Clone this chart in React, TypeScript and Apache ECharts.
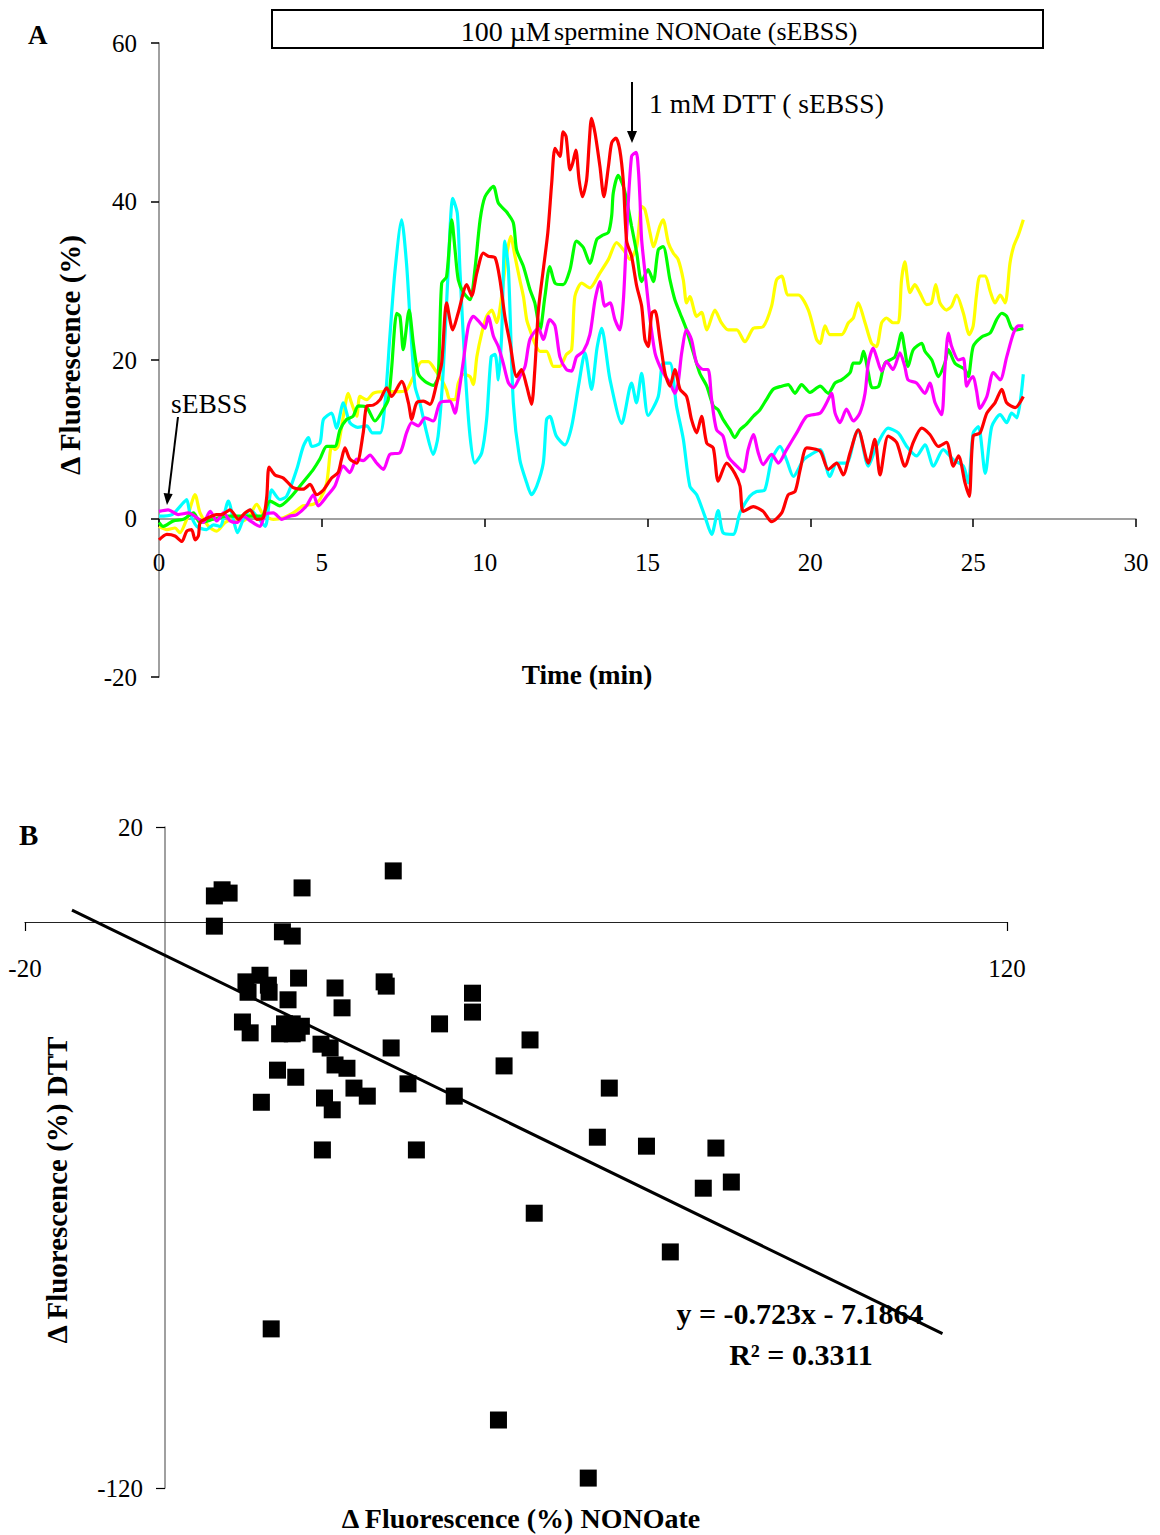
import React, { useEffect, useRef } from "react";
import * as echarts from "echarts";

const FONT = '"Liberation Serif", "Times New Roman", serif';

// ---------- Panel A: time courses (time min, Δ fluorescence %) ----------
const X_TICKS_A = [0, 30, 5];
const Y_TICKS_A = [-20, 60, 20];

const CYAN: number[][] = [
  [0, 0.3], [0.4, 0.5], [0.75, 2.0], [0.85, 2.4], [0.95, 0.7], [1.16, -1.0], [1.46, -1.4], [1.67, -0.8], [1.87, -1.0],
  [2.13, 2.2], [2.28, -0.1], [2.41, -1.8], [2.59, -0.1], [2.8, 1.1], [3.0, 0.3], [3.26, -1.0], [3.46, 3.6], [3.71, 2.4],
  [3.92, 2.8], [4.23, 6.2], [4.43, 9.1], [4.59, 10.2], [4.69, 9.1], [4.94, 9.5], [5.05, 12.5], [5.3, 13.3], [5.45, 11.4],
  [5.66, 14.6], [5.86, 12.1], [6.1, 11.5], [6.38, 11.7], [6.55, 10.8], [6.79, 10.8], [6.94, 14.6], [7.09, 23.0],
  [7.25, 31.4], [7.45, 37.7], [7.6, 32.2], [7.71, 25.1], [7.86, 16.7], [8.01, 14.6], [8.22, 10.8], [8.42, 8.1],
  [8.57, 10.4], [8.73, 18.8], [8.88, 31.4], [9.02, 40.4], [9.16, 38.5], [9.24, 31.4], [9.4, 18.8], [9.55, 10.4],
  [9.7, 7.0], [9.91, 8.3], [10.06, 12.5], [10.2, 20.4], [10.32, 20.7], [10.42, 17.5], [10.52, 23.0], [10.62, 35.0],
  [10.73, 31.4], [10.88, 14.6], [11.08, 7.4], [11.29, 4.5], [11.44, 3.0], [11.6, 4.1], [11.8, 7.0], [11.9, 12.5],
  [12.0, 12.9], [12.2, 10.4], [12.46, 9.3], [12.67, 11.6], [12.88, 16.7], [13.08, 20.9], [13.28, 16.3], [13.45, 21.5],
  [13.59, 24.0], [13.85, 17.5], [14.21, 12.0], [14.51, 17.1], [14.66, 14.6], [14.82, 18.3], [15.02, 13.0], [15.33, 15.4],
  [15.48, 19.6], [15.69, 19.6], [15.89, 14.2], [16.1, 10.0], [16.3, 4.1], [16.51, 3.0], [16.76, 0.3], [16.97, -2.0],
  [17.17, 1.0], [17.32, -1.8], [17.63, -2.0], [17.84, 0.7], [18.14, 2.8], [18.35, 3.4], [18.6, 3.6], [18.81, 7.4],
  [19.07, 9.1], [19.27, 7.4], [19.48, 5.3], [19.79, 7.4], [19.99, 8.0], [20.3, 8.7], [20.6, 5.3], [20.81, 7.0],
  [21.11, 7.0], [21.37, 10.4], [21.47, 11.2], [21.78, 6.6], [22.03, 9.1], [22.39, 11.4], [22.7, 10.8], [22.96, 9.1],
  [23.26, 7.9], [23.52, 9.3], [23.78, 6.6], [24.08, 8.7], [24.39, 7.4], [24.7, 6.6], [24.85, 4.5], [25.0, 10.8],
  [25.16, 11.6], [25.37, 5.7], [25.57, 11.6], [25.83, 13.1], [26.03, 12.1], [26.18, 13.3], [26.34, 12.7], [26.54, 18.2],
];

const YELLOW: number[][] = [
  [0, -1.0], [0.24, -1.4], [0.49, -1.2], [0.64, -1.8], [0.85, -0.1], [1.11, 3.0], [1.26, 0.7], [1.52, -1.0], [1.77, -1.6],
  [2.03, -0.5], [2.28, -0.1], [2.59, -0.3], [2.8, 0.5], [3.0, 1.8], [3.2, 0.5], [3.51, -0.1], [3.82, 0.1], [4.12, 0.7],
  [4.43, 1.6], [4.74, 1.8], [4.94, 2.4], [5.15, 4.5], [5.3, 9.1], [5.4, 8.7], [5.5, 9.1], [5.66, 12.9], [5.81, 15.8],
  [5.91, 14.6], [6.07, 12.9], [6.17, 15.4], [6.38, 15.0], [6.58, 15.8], [6.89, 16.0], [7.3, 16.0], [7.6, 16.2],
  [7.81, 17.9], [8.07, 19.8], [8.27, 19.8], [8.47, 18.8], [8.68, 17.5], [8.83, 16.2], [8.93, 15.0], [9.09, 15.0],
  [9.19, 17.1], [9.35, 18.2], [9.55, 17.9], [9.65, 16.9], [9.76, 20.4], [9.91, 23.4], [10.06, 25.5], [10.22, 26.3],
  [10.37, 24.7], [10.52, 28.0], [10.67, 33.1], [10.8, 35.6], [10.93, 33.1], [11.08, 30.1], [11.19, 28.0], [11.29, 25.1],
  [11.39, 23.8], [11.54, 22.1], [11.7, 21.1], [11.9, 21.1], [12.11, 19.2], [12.31, 19.2], [12.51, 20.7], [12.67, 21.3],
  [12.77, 28.0], [12.98, 29.7], [13.23, 29.1], [13.54, 31.0], [13.8, 32.7], [14.05, 34.8], [14.26, 33.9], [14.46, 32.7],
  [14.67, 34.3], [14.82, 39.4], [14.92, 39.0], [15.08, 36.0], [15.18, 34.3], [15.38, 36.9], [15.48, 37.7], [15.64, 34.8],
  [15.79, 33.5], [15.94, 32.7], [16.1, 30.1], [16.2, 27.2], [16.3, 28.0], [16.51, 25.5], [16.66, 26.0], [16.82, 23.8],
  [17.07, 26.3], [17.27, 24.7], [17.48, 23.8], [17.74, 23.8], [17.99, 22.3], [18.25, 24.0], [18.55, 24.2], [18.81, 26.8],
  [18.96, 30.1], [19.12, 30.6], [19.32, 28.2], [19.63, 28.2], [19.94, 26.3], [20.19, 22.6], [20.3, 22.1], [20.45, 24.3],
  [20.6, 23.2], [20.96, 23.2], [21.17, 24.7], [21.32, 25.3], [21.47, 27.2], [21.68, 24.7], [21.88, 22.1], [22.03, 21.7],
  [22.19, 24.7], [22.34, 25.3], [22.54, 24.7], [22.7, 24.7], [22.8, 30.1], [22.9, 32.4], [23.06, 28.5], [23.21, 29.5],
  [23.36, 28.5], [23.57, 27.0], [23.72, 27.2], [23.85, 29.5], [23.98, 27.2], [24.18, 26.3], [24.34, 26.8], [24.49, 28.2],
  [24.7, 25.9], [24.88, 23.2], [25.0, 24.3], [25.1, 28.1], [25.21, 30.6], [25.37, 30.6], [25.52, 28.7], [25.67, 27.2],
  [25.83, 28.2], [25.98, 27.2], [26.13, 32.2], [26.24, 34.3], [26.39, 35.8], [26.54, 37.7],
];

const GREEN: number[][] = [
  [0, -0.5], [0.13, -1.0], [0.44, -0.3], [0.75, -0.1], [1.06, 0.7], [1.26, -0.5], [1.67, -0.1], [2.08, 0.3], [2.49, 0.3],
  [2.8, 0.3], [3.15, 0.3], [3.41, 2.2], [3.71, 1.6], [4.02, 2.6], [4.33, 4.1], [4.53, 5.1], [4.74, 6.2], [4.94, 7.5],
  [5.15, 9.1], [5.4, 9.1], [5.56, 11.2], [5.76, 12.5], [5.96, 12.9], [6.12, 14.2], [6.38, 14.0], [6.63, 12.3],
  [6.89, 13.8], [7.04, 15.0], [7.14, 18.8], [7.3, 25.9], [7.4, 25.5], [7.5, 21.3], [7.68, 26.3], [7.81, 22.1],
  [7.96, 18.3], [8.17, 17.3], [8.42, 16.8], [8.57, 17.9], [8.68, 29.7], [8.83, 30.5], [8.99, 37.7], [9.09, 33.9],
  [9.19, 30.1], [9.35, 28.5], [9.55, 27.6], [9.7, 31.4], [9.86, 37.7], [10.01, 40.6], [10.27, 41.9], [10.42, 39.8],
  [10.67, 38.7], [10.88, 37.3], [10.98, 33.9], [11.19, 31.8], [11.39, 28.9], [11.54, 27.2], [11.7, 23.8], [11.85, 28.0],
  [12.0, 31.8], [12.16, 29.7], [12.41, 29.5], [12.62, 31.4], [12.82, 35.0], [13.03, 34.2], [13.23, 32.2], [13.44, 35.2],
  [13.6, 35.7], [13.8, 36.1], [13.9, 38.2], [13.95, 41.1], [14.1, 43.3], [14.26, 41.9], [14.36, 40.2], [14.51, 36.9],
  [14.67, 33.5], [14.82, 29.9], [15.02, 31.4], [15.18, 29.9], [15.33, 33.9], [15.48, 34.3], [15.69, 30.1], [15.84, 27.6],
  [16.0, 25.9], [16.2, 23.8], [16.41, 20.9], [16.61, 18.3], [16.82, 16.7], [17.02, 14.2], [17.17, 13.7], [17.32, 12.5],
  [17.53, 11.2], [17.68, 10.2], [17.84, 11.2], [18.04, 11.9], [18.25, 12.9], [18.45, 13.7], [18.65, 15.0], [18.86, 16.3],
  [19.12, 16.7], [19.32, 16.9], [19.53, 15.8], [19.73, 16.9], [19.99, 15.9], [20.3, 16.7], [20.55, 15.8], [20.76, 17.1],
  [20.96, 17.5], [21.22, 18.4], [21.32, 19.6], [21.52, 19.6], [21.63, 21.1], [21.78, 18.4], [21.9, 16.5], [22.1, 16.7],
  [22.29, 19.6], [22.6, 20.4], [22.8, 23.4], [22.9, 21.3], [23.0, 19.2], [23.16, 21.3], [23.42, 22.1], [23.52, 21.1],
  [23.73, 20.0], [23.93, 17.9], [24.13, 19.6], [24.24, 21.3], [24.44, 19.6], [24.75, 18.8], [24.85, 17.9], [25.0, 21.7],
  [25.26, 22.9], [25.52, 23.4], [25.72, 25.1], [25.88, 25.9], [26.03, 25.5], [26.18, 24.0], [26.34, 23.8], [26.54, 24.0],
];

const MAGENTA: number[][] = [
  [0, 0.9], [0.28, 1.1], [0.59, 0.5], [0.9, 0.7], [1.16, 0.1], [1.36, -0.5], [1.57, 0.9], [1.77, -0.3], [1.98, 0.7],
  [2.18, -0.3], [2.39, -0.5], [2.59, 0.3], [2.8, -0.3], [3.1, -1.0], [3.26, 0.5], [3.51, 0.7], [3.77, -0.1], [4.02, 0.3],
  [4.23, 0.5], [4.53, 1.6], [4.74, 3.0], [4.89, 1.6], [5.15, 2.8], [5.4, 4.1], [5.66, 6.6], [5.86, 5.8], [6.07, 7.5],
  [6.27, 7.3], [6.48, 8.0], [6.68, 7.0], [6.89, 6.2], [7.09, 8.1], [7.4, 8.3], [7.6, 10.8], [7.76, 12.1], [7.96, 11.7],
  [8.17, 12.7], [8.42, 12.3], [8.63, 14.6], [8.93, 14.8], [9.09, 13.3], [9.19, 15.4], [9.35, 20.0], [9.5, 24.3],
  [9.65, 25.5], [9.86, 24.7], [10.01, 24.0], [10.11, 25.5], [10.27, 23.0], [10.42, 21.7], [10.57, 19.6], [10.73, 17.1],
  [10.88, 16.5], [11.08, 17.9], [11.24, 19.2], [11.39, 22.6], [11.65, 24.0], [11.8, 22.6], [12.0, 25.1], [12.16, 24.3],
  [12.31, 20.4], [12.51, 18.8], [12.67, 18.6], [12.82, 20.4], [13.03, 21.1], [13.23, 23.2], [13.39, 27.6], [13.54, 29.9],
  [13.69, 26.8], [13.85, 27.2], [14.0, 25.1], [14.15, 23.8], [14.26, 27.6], [14.36, 36.0], [14.51, 45.7], [14.65, 46.2],
  [14.72, 44.0], [14.77, 40.2], [14.82, 35.2], [14.97, 29.3], [15.08, 25.1], [15.23, 20.9], [15.38, 19.2], [15.54, 18.0],
  [15.69, 17.1], [15.84, 15.8], [15.94, 17.1], [16.05, 20.9], [16.2, 23.8], [16.35, 22.6], [16.51, 19.6], [16.71, 18.8],
  [16.86, 18.8], [16.97, 15.0], [17.12, 11.2], [17.32, 10.4], [17.48, 7.8], [17.74, 6.6], [17.94, 5.9], [18.09, 8.7],
  [18.25, 10.6], [18.4, 8.3], [18.55, 6.8], [18.81, 8.1], [19.02, 7.0], [19.27, 8.7], [19.58, 10.8], [19.89, 12.9],
  [20.3, 13.3], [20.5, 14.6], [20.65, 15.8], [20.76, 13.3], [20.91, 12.1], [21.11, 13.8], [21.32, 12.3], [21.52, 13.3],
  [21.68, 15.8], [21.78, 19.6], [21.93, 21.5], [22.03, 20.4], [22.19, 18.6], [22.34, 19.8], [22.54, 18.8], [22.75, 20.9],
  [22.9, 19.2], [23.0, 17.5], [23.26, 17.1], [23.52, 15.8], [23.67, 17.1], [23.83, 14.6], [24.03, 13.1], [24.13, 18.8],
  [24.24, 23.4], [24.34, 21.7], [24.55, 20.0], [24.7, 20.2], [24.8, 16.7], [24.9, 17.5], [25.0, 17.9], [25.1, 16.2],
  [25.21, 13.9], [25.42, 15.4], [25.62, 18.4], [25.83, 17.5], [26.03, 20.4], [26.24, 23.4], [26.39, 24.3], [26.54, 24.3],
];

const RED: number[][] = [
  [0, -2.7], [0.24, -2.0], [0.49, -2.2], [0.7, -2.9], [0.85, -1.6], [1.0, -1.4], [1.11, -2.7], [1.21, -2.2], [1.26, -0.5],
  [1.41, -0.1], [1.77, 0.5], [1.92, 0.5], [2.18, 1.1], [2.44, -0.1], [2.64, 0.7], [2.8, 1.1], [3.0, -0.1], [3.2, 0.1],
  [3.31, 2.8], [3.38, 6.5], [3.56, 5.5], [3.82, 5.1], [4.12, 3.9], [4.43, 3.7], [4.64, 4.3], [4.84, 3.0], [5.05, 3.6],
  [5.3, 5.1], [5.5, 5.8], [5.6, 7.4], [5.71, 8.9], [5.86, 7.5], [6.07, 7.0], [6.27, 10.8], [6.38, 14.2], [6.58, 14.3],
  [6.79, 15.0], [6.99, 16.5], [7.14, 15.4], [7.45, 17.3], [7.66, 14.6], [7.76, 12.5], [7.91, 14.6], [8.12, 14.8],
  [8.32, 14.4], [8.53, 17.1], [8.68, 19.6], [8.83, 27.2], [9.02, 23.8], [9.19, 26.0], [9.45, 29.5], [9.6, 28.1],
  [9.76, 31.0], [9.96, 33.5], [10.11, 33.1], [10.32, 32.9], [10.47, 30.1], [10.62, 25.5], [10.78, 22.1], [10.98, 17.9],
  [11.13, 18.8], [11.29, 16.7], [11.44, 14.4], [11.54, 18.8], [11.65, 26.3], [11.8, 31.4], [11.94, 36.1], [12.06, 42.4],
  [12.16, 46.7], [12.31, 45.7], [12.41, 48.8], [12.5, 48.2], [12.62, 44.0], [12.7, 44.8], [12.8, 46.5], [12.9, 42.7],
  [13.0, 40.6], [13.13, 42.7], [13.21, 47.4], [13.28, 50.5], [13.39, 48.6], [13.54, 44.4], [13.66, 40.6], [13.8, 44.4],
  [13.9, 47.4], [14.03, 48.0], [14.15, 46.5], [14.26, 42.4], [14.36, 35.0], [14.51, 33.1], [14.67, 29.3], [14.82, 26.8],
  [14.92, 22.6], [15.02, 21.7], [15.13, 25.9], [15.23, 26.2], [15.38, 22.6], [15.54, 18.3], [15.69, 16.7], [15.84, 18.8],
  [16.0, 16.3], [16.2, 15.4], [16.35, 12.5], [16.51, 10.8], [16.66, 12.9], [16.82, 9.5], [17.02, 8.9], [17.17, 4.7],
  [17.43, 7.0], [17.68, 5.7], [17.84, 4.1], [17.94, 0.9], [18.25, 1.5], [18.55, 0.9], [18.81, -0.4], [19.12, 0.7],
  [19.32, 3.0], [19.53, 3.4], [19.69, 6.2], [19.89, 8.9], [20.3, 8.5], [20.55, 6.2], [20.81, 7.0], [21.01, 5.5],
  [21.22, 8.3], [21.47, 11.2], [21.78, 7.0], [21.98, 10.0], [22.14, 5.5], [22.39, 10.4], [22.65, 9.6], [22.9, 6.6],
  [23.16, 9.6], [23.42, 11.4], [23.67, 10.6], [23.93, 9.1], [24.18, 9.6], [24.39, 6.6], [24.55, 7.9], [24.75, 4.5],
  [24.88, 2.8], [25.0, 10.4], [25.21, 10.8], [25.42, 13.3], [25.67, 14.6], [25.88, 16.3], [26.03, 14.6], [26.29, 14.0],
  [26.54, 15.4],
];

// ---------- Panel B: scatter (Δ NONOate vs Δ DTT) ----------
const X_TICKS_B = [-20, 120, 140];
const Y_TICKS_B = [-120, 20, 140];

const NONO_X = [
  32.5, 7.0, 8.1, 9.1, 19.5, 7.0, 16.7, 18.1, 19.0, 13.5, 11.5, 14.7, 11.8, 14.8, 24.2, 31.2, 31.5, 17.5, 25.2, 11.0,
  12.1, 17.0, 18.1, 19.4, 16.3, 18.1, 18.8, 22.2, 23.5, 24.2, 25.9, 16.0, 18.6, 26.9, 28.8, 13.7, 22.7, 23.8, 22.4,
  35.8, 39.1, 32.2, 34.6, 41.2, 43.8, 43.8, 52.0, 48.3, 63.3, 61.6, 68.6, 78.5, 76.7, 80.7, 52.6, 72.0, 15.1, 47.5, 60.3,
];
const DTT_Y = [
  10.7, 5.4, 6.7, 6.0, 7.1, -1.0, -2.2, -3.1, -12.0, -11.4, -12.8, -13.5, -15.0, -15.0, -14.1, -12.8, -13.7, -16.6,
  -18.3, -21.3, -23.6, -21.7, -21.7, -22.2, -23.8, -23.8, -23.6, -26.0, -26.8, -30.4, -31.1, -31.5, -33.0, -35.3, -37.0,
  -38.3, -37.4, -39.9, -48.4, -48.4, -21.7, -26.8, -34.4, -37.0, -15.2, -19.2, -25.1, -30.6, -35.3, -45.7, -47.6, -48.0,
  -56.5, -55.2, -61.8, -70.0, -86.3, -105.6, -117.9,
];
const TREND_X = [-13.3, 110.8];
const TREND_Y = [2.4, -87.3];

const AXIS_GRAY = "#808080";

export default function App() {
  const ref = useRef<HTMLDivElement | null>(null);

  useEffect(() => {
    if (!ref.current) return;
    const chart = echarts.init(ref.current, undefined, { renderer: "svg" });

    const lineSeries = (data: number[][], color: string) => ({
      type: "line",
      xAxisIndex: 0,
      yAxisIndex: 0,
      data,
      showSymbol: false,
      symbol: "none",
      smooth: 0.25,
      lineStyle: { color, width: 3.2 },
      z: 3,
    });

    const scatter = NONO_X.map((x, i) => [x, DTT_Y[i]]);
    const trend = TREND_X.map((x, i) => [x, TREND_Y[i]]);

    const tickLabel = { fontFamily: FONT, fontSize: 25, color: "#000" };
    const bold = (size: number) => ({ fontFamily: FONT, fontSize: size, fontWeight: "bold", fill: "#000" });
    const hiddenAxis = (gridIndex: number, min: number, max: number) => ({
      gridIndex, type: "value", min, max, show: false,
      axisLine: { show: false, onZero: false }, axisTick: { show: false }, axisLabel: { show: false },
      splitLine: { show: false },
    });
    const gridBase = { containLabel: false, outerBoundsMode: "none" };

    const option: any = {
      animation: false,
      backgroundColor: "#fff",
      grid: [
        // 0: panel A plotting area
        { ...gridBase, left: 159, right: 24, top: 43, bottom: 858 },
        // 1: panel A x axis at value 0
        { ...gridBase, left: 159, right: 24, top: 43, bottom: 1535 - 519 },
        // 2: panel B plotting area
        { ...gridBase, left: 25, right: 153, top: 827, bottom: 47 },
        // 3: panel B x axis at value 0
        { ...gridBase, left: 25, right: 153, top: 827, bottom: 1535 - 922 },
        // 4: panel B y axis at value 0
        { ...gridBase, left: 165, right: 153, top: 827, bottom: 47 },
      ],
      xAxis: [
        hiddenAxis(0, X_TICKS_A[0], X_TICKS_A[1]),
        {
          gridIndex: 1, type: "value", min: X_TICKS_A[0], max: X_TICKS_A[1], interval: X_TICKS_A[2],
          axisLine: { show: true, onZero: false, lineStyle: { color: AXIS_GRAY, width: 1.5 } },
          axisTick: { show: true, length: 8, lineStyle: { color: "#000", width: 1.5 } },
          axisLabel: { ...tickLabel, margin: 31 },
          splitLine: { show: false },
        },
        hiddenAxis(2, X_TICKS_B[0], X_TICKS_B[1]),
        {
          gridIndex: 3, type: "value", min: X_TICKS_B[0], max: X_TICKS_B[1], interval: X_TICKS_B[2],
          axisLine: { show: true, onZero: false, lineStyle: { color: "#222", width: 1.2 } },
          axisTick: { show: true, length: 9, lineStyle: { color: "#000", width: 1.2 } },
          axisLabel: { ...tickLabel, margin: 34 },
          splitLine: { show: false },
        },
        hiddenAxis(4, 0, 120),
      ],
      yAxis: [
        {
          gridIndex: 0, type: "value", min: Y_TICKS_A[0], max: Y_TICKS_A[1], interval: Y_TICKS_A[2],
          axisLine: { show: true, onZero: false, lineStyle: { color: AXIS_GRAY, width: 1.5 } },
          axisTick: { show: true, length: 8, lineStyle: { color: "#000", width: 1.5 } },
          axisLabel: { ...tickLabel, margin: 22 },
          splitLine: { show: false },
        },
        hiddenAxis(1, 0, 60),
        hiddenAxis(2, Y_TICKS_B[0], Y_TICKS_B[1]),
        hiddenAxis(3, 0, 20),
        {
          gridIndex: 4, type: "value", min: Y_TICKS_B[0], max: Y_TICKS_B[1], interval: Y_TICKS_B[2],
          axisLine: { show: true, onZero: false, lineStyle: { color: AXIS_GRAY, width: 1.5 } },
          axisTick: { show: true, length: 9, lineStyle: { color: "#000", width: 1.2 } },
          axisLabel: { ...tickLabel, margin: 22 },
          splitLine: { show: false },
        },
      ],
      series: [
        lineSeries(YELLOW, "#FFFF00"),
        lineSeries(CYAN, "#00FFFF"),
        lineSeries(GREEN, "#00FF00"),
        lineSeries(MAGENTA, "#FF00FF"),
        lineSeries(RED, "#FF0000"),
        {
          type: "scatter", xAxisIndex: 2, yAxisIndex: 2, data: scatter,
          symbol: "rect", symbolSize: 17, itemStyle: { color: "#000", opacity: 1 }, z: 4,
        },
        {
          type: "line", xAxisIndex: 2, yAxisIndex: 2, data: trend, showSymbol: false, symbol: "none",
          lineStyle: { color: "#000", width: 3 }, z: 5,
        },
      ],
      graphic: [
        { type: "text", left: 28, top: 21, style: { ...bold(27), text: "A" } },
        { type: "text", left: 19, top: 820, style: { ...bold(29), text: "B" } },
        {
          type: "rect", shape: { x: 272, y: 10, width: 771, height: 38 },
          style: { fill: "none", stroke: "#000", lineWidth: 2 },
        },
        {
          type: "text", x: 659, y: 31,
          style: {
            text: "{a|100 µM} {b|spermine NONOate (sEBSS)}",
            align: "center", verticalAlign: "middle",
            rich: {
              a: { fontFamily: FONT, fontSize: 28, fill: "#000" },
              b: { fontFamily: FONT, fontSize: 26, fill: "#000" },
            },
          },
        },
        { type: "line", shape: { x1: 632, y1: 82, x2: 632, y2: 134 }, style: { stroke: "#000", lineWidth: 2 } },
        { type: "polygon", shape: { points: [[627, 131], [637, 131], [632, 143]] }, style: { fill: "#000" } },
        {
          type: "text", x: 649, y: 103,
          style: { text: "1 mM DTT ( sEBSS)", fontFamily: FONT, fontSize: 27.5, fill: "#000", align: "left", verticalAlign: "middle" },
        },
        {
          type: "text", x: 171, y: 403,
          style: { text: "sEBSS", fontFamily: FONT, fontSize: 27.5, fill: "#000", align: "left", verticalAlign: "middle" },
        },
        { type: "line", shape: { x1: 178, y1: 417, x2: 168.5, y2: 495 }, style: { stroke: "#000", lineWidth: 2 } },
        { type: "polygon", shape: { points: [[172.7, 494], [163.6, 493], [167, 505]] }, style: { fill: "#000" } },
        {
          type: "text", x: 587, y: 675,
          style: { ...bold(27.3), text: "Time (min)", align: "center", verticalAlign: "middle" },
        },
        {
          type: "text", x: 70, y: 355, rotation: Math.PI / 2,
          style: { ...bold(29), text: "Δ Fluorescence (%)", align: "center", verticalAlign: "middle" },
        },
        {
          type: "text", x: 57, y: 1190, rotation: Math.PI / 2,
          style: { ...bold(29), text: "Δ Fluorescence (%) DTT", align: "center", verticalAlign: "middle" },
        },
        {
          type: "text", x: 521, y: 1518,
          style: { ...bold(28), text: "Δ Fluorescence (%) NONOate", align: "center", verticalAlign: "middle" },
        },
        {
          type: "text", x: 800, y: 1313,
          style: { ...bold(30), text: "y = -0.723x - 7.1864", align: "center", verticalAlign: "middle" },
        },
        {
          type: "text", x: 801, y: 1354,
          style: { ...bold(30), text: "R² = 0.3311", align: "center", verticalAlign: "middle" },
        },
      ],
    };

    chart.setOption(option);
    return () => chart.dispose();
  }, []);

  return (
    <div
      ref={ref}
      style={{ position: "absolute", left: 0, top: 0, width: 1160, height: 1535, background: "#fff" }}
    />
  );
}
